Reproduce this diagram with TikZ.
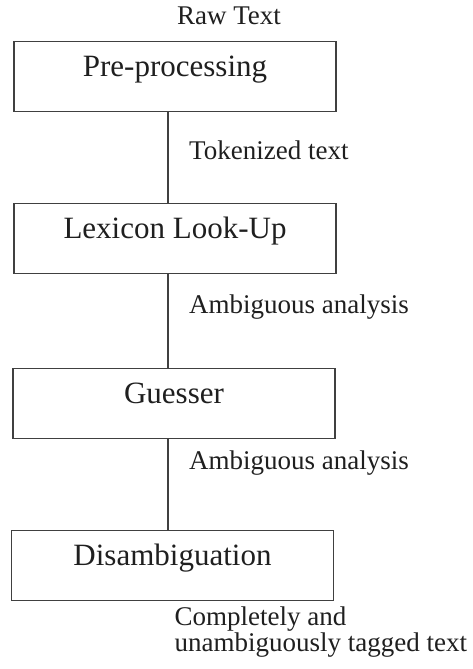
\documentclass[tikz,border=0pt]{standalone}
\usepackage{fontspec}
\setmainfont{Liberation Serif}
\usepackage{tikz}
\usetikzlibrary{positioning}

\tikzset{
  stagebox/.style={draw=black!75,line width=1.3pt,minimum width=322pt,inner sep=0pt,
    text height=35pt,text depth=35pt,font=\fontsize{31}{36}\selectfont,text=black!88},
  flowlbl/.style={font=\fontsize{27}{24.5}\selectfont,text=black!88,inner sep=0pt},
  link/.style={draw=black!75,line width=1.3pt}
}

\begin{document}
\begin{tikzpicture}[x=1pt,y=-1pt]
\useasboundingbox (0,0) rectangle (473,669);
\coordinate (spine) at (168,0);
\node[stagebox,anchor=north] (pre) at (175,41) {Pre-processing};
\node[stagebox,anchor=north] (lex) at (175,203) {Lexicon Look-Up};
\node[stagebox,anchor=north] (guess) at (174,368) {Guesser};
\node[stagebox,anchor=north] (disamb) at (172.5,530) {Disambiguation};
\draw[link] (pre.south -| spine) -- (lex.north -| spine);
\draw[link] (lex.south -| spine) -- (guess.north -| spine);
\draw[link] (guess.south -| spine) -- (disamb.north -| spine);
\node[flowlbl,anchor=base] (rawtxt) at (229,25) {Raw Text};
\node[flowlbl,anchor=base west] (toktxt) at (189,159) {Tokenized text};
\node[flowlbl,anchor=base west] (amb1) at (189,313) {Ambiguous analysis};
\node[flowlbl,anchor=base west] (amb2) at (189,469) {Ambiguous analysis};
\node[flowlbl,anchor=base west,align=left] (tagged) at (174.5,651)
  {Completely and\\unambiguously tagged text};
\end{tikzpicture}
\end{document}
